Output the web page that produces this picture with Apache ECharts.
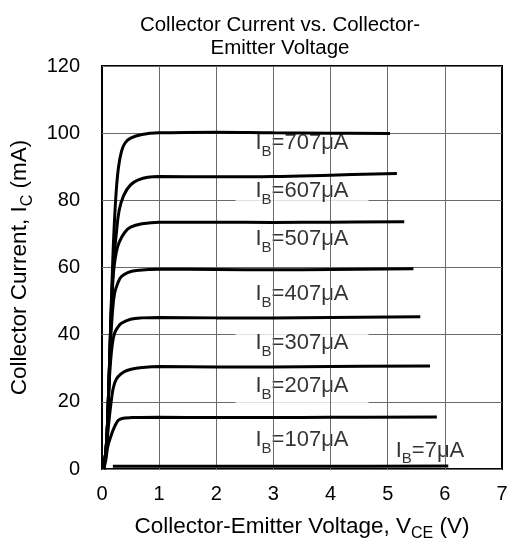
<!DOCTYPE html>
<html>
<head>
<meta charset="utf-8">
<script src="https://cdn.jsdelivr.net/npm/echarts@6/dist/echarts.min.js"></script>
<style>
  html, body { margin: 0; padding: 0; background: #fff; }
  #main { width: 508px; height: 543px; }
</style>
</head>
<body>
<div id="main"></div>
<script>
// curve data: [Vce (V), Ic (mA)]
const ib707 = [[0.03,0],[0.08,8],[0.12,25],[0.15,42],[0.18,58],[0.21,71],[0.25,83],[0.29,90],[0.34,94.5],[0.4,97],[0.5,98.5],[0.7,99.6],[1,100.1],[2,100.3],[3,100.1],[4,100],[5.04,99.9]];
const ib607 = [[0.03,0],[0.08,8],[0.12,25],[0.15,42],[0.18,55],[0.21,63],[0.25,70],[0.3,77],[0.38,81.5],[0.5,84.6],[0.65,86.2],[0.8,86.9],[1,87.1],[2,87],[3,87.1],[4,87.5],[5.16,88]];
const ib507 = [[0.03,0],[0.08,8],[0.12,25],[0.15,41],[0.18,53],[0.21,60],[0.25,64.5],[0.3,67.5],[0.4,70.5],[0.5,72],[0.7,73],[1,73.5],[2,73.5],[3,73.4],[4,73.5],[5.29,73.6]];
const ib407 = [[0.03,0],[0.08,8],[0.12,25],[0.15,38],[0.18,46],[0.22,52.3],[0.28,55.5],[0.34,57.3],[0.45,58.5],[0.6,59.1],[1,59.5],[2,59.4],[3,59.3],[4,59.4],[5.45,59.6]];
const ib307 = [[0.03,0],[0.08,8],[0.12,24],[0.15,32],[0.18,37],[0.22,40.4],[0.28,42.3],[0.34,43.4],[0.5,44.6],[0.7,45],[1,45.1],[2,45],[3,45],[4,45.1],[5.57,45.3]];
const ib207 = [[0.03,0],[0.08,7],[0.12,14],[0.16,20],[0.19,23.5],[0.23,26],[0.28,27.5],[0.38,28.9],[0.51,29.7],[0.7,30.2],[1,30.5],[2,30.4],[3,30.4],[4,30.5],[5.74,30.7]];
const ib107 = [[0.03,0],[0.07,3],[0.1,6.6],[0.16,10],[0.22,12.6],[0.27,14.2],[0.31,14.8],[0.4,15.2],[0.51,15.3],[1,15.4],[2,15.3],[3,15.3],[4,15.4],[5.86,15.5]];
const ib7 = [[0.19,0.8],[2,0.8],[4,0.8],[6.06,0.9]];

const curves = [ib707, ib607, ib507, ib407, ib307, ib207, ib107, ib7];
const labelText = ['707', '607', '507', '407', '307', '207', '107', '7'];
// where each label sits, [Vce, Ic]
const labelPos = [[3.5,97.1],[3.5,82.8],[3.5,68.5],[3.5,52.1],[3.5,37.5],[3.5,24.7],[3.5,8.6],[5.74,5.5]];
const gridX = [1, 2, 3, 4, 5, 6];

const chart = echarts.init(document.getElementById('main'));
const font = 'Liberation Sans, Arial, sans-serif';

const series = [];

// labels with white boxes, under the vertical grid lines
series.push({
  type: 'scatter',
  z: 2,
  symbolSize: 0,
  silent: true,
  data: labelPos.map((p, i) => ({
    value: p,
    label: {
      show: true,
      position: 'inside',
      formatter: '{a|I}{b|B}{a|=' + labelText[i] + 'μA}',
      backgroundColor: i === 7 ? 'transparent' : '#fff',
      padding: i === 7 ? 0 : [5, 20],
      rich: {
        a: { fontFamily: font, fontSize: 22, color: '#000', lineHeight: 24 },
        b: { fontFamily: font, fontSize: 15, color: '#000', lineHeight: 24, verticalAlign: 'bottom', padding: [0, 0, -4, 0] }
      }
    }
  }))
});

series.push({
  type: 'line',
  z: 3,
  data: [],
  markLine: {
    silent: true,
    symbol: 'none',
    label: { show: false },
    lineStyle: { color: '#6a6a6a', width: 1, type: 'solid' },
    data: gridX.map(v => ({ xAxis: v }))
  }
});

curves.forEach(c => {
  series.push({
    type: 'line',
    z: 5,
    data: c,
    smooth: 0.4,
    showSymbol: false,
    silent: true,
    lineStyle: { color: '#000', width: 3 }
  });
});

const subStyle = { fontFamily: font, fontSize: 16, color: '#000', verticalAlign: 'bottom', padding: [0, 0, -4, 0] };

chart.setOption({
  animation: false,
  title: {
    text: 'Collector Current vs. Collector-\nEmitter Voltage',
    left: 275,
    top: 9,
    textAlign: 'center',
    textStyle: { fontFamily: font, fontSize: 20.5, fontWeight: 'normal', color: '#000', lineHeight: 23 }
  },
  grid: {
    left: 102, right: 6, top: 66, bottom: 74,
    outerBoundsMode: 'none',
    show: true, borderColor: '#000', borderWidth: 2, backgroundColor: 'transparent'
  },
  xAxis: {
    type: 'value', min: 0, max: 7, interval: 1,
    axisLine: { show: false }, axisTick: { show: false },
    splitLine: { show: false },
    axisLabel: { fontFamily: font, fontSize: 20, color: '#000', margin: 15 },
    name: 'Collector-Emitter Voltage, V{s|CE} (V)',
    nameLocation: 'middle', nameGap: 46,
    nameTextStyle: { fontFamily: font, fontSize: 22.5, color: '#000', rich: { s: subStyle } }
  },
  yAxis: {
    type: 'value', min: 0, max: 120, interval: 20,
    axisLine: { show: false }, axisTick: { show: false },
    splitLine: { lineStyle: { color: '#6a6a6a', width: 1 } },
    axisLabel: { fontFamily: font, fontSize: 20, color: '#000', margin: 22 },
    name: 'Collector Current, I{s|C} (mA)',
    nameLocation: 'middle', nameGap: 69,
    nameTextStyle: { fontFamily: font, fontSize: 22.5, color: '#000', rich: { s: subStyle } }
  },
  series: series
});
</script>
</body>
</html>
